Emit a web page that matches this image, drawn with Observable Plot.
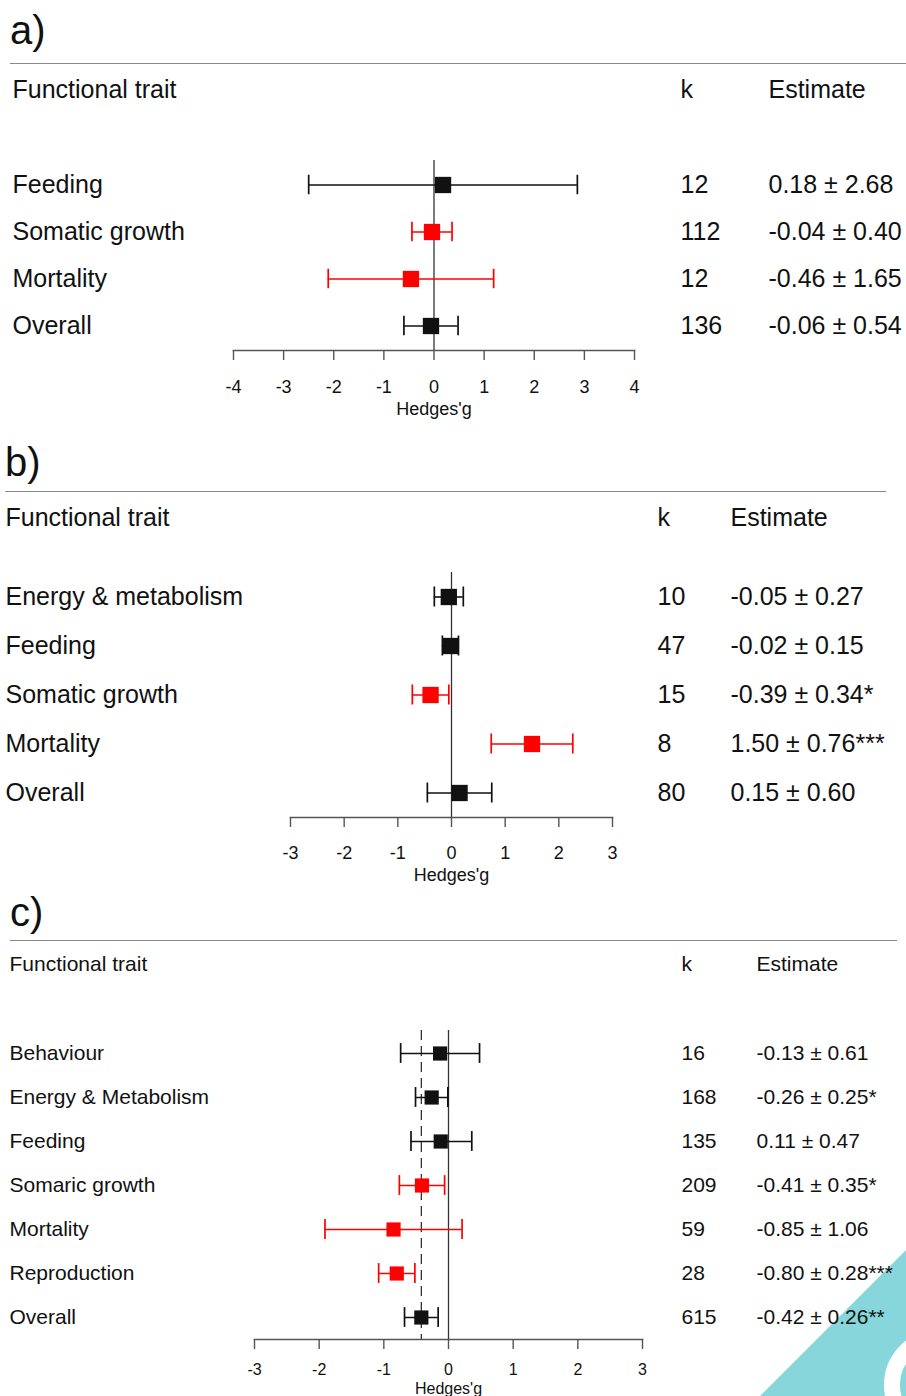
<!DOCTYPE html>
<html>
<head>
<meta charset="utf-8">
<script src="https://cdn.jsdelivr.net/npm/d3@7"></script>
<script src="https://cdn.jsdelivr.net/npm/@observablehq/plot@0.6"></script>
<style>
  html, body { margin: 0; padding: 0; background: #fff; }
  #page { position: relative; width: 906px; height: 1396px; overflow: hidden; font-family: "Liberation Sans", Arial, sans-serif; color: #111; }
  .letter { position: absolute; font-size: 40px; line-height: 1; }
  .hr { position: absolute; height: 0; border-top: 1.5px solid #8a8a8a; }
  .panel { position: absolute; left: 0; }
  #deco { position: absolute; left: 0; top: 0; z-index: 0; }
  .panel { z-index: 1; }
</style>
</head>
<body>
<div id="page">
  <svg id="deco" width="906" height="1396">
    <polygon points="906,1250 906,1396 760,1396" fill="#86d6db"></polygon>
    <circle cx="940" cy="1385" r="48" fill="none" stroke="#fff" stroke-width="16"></circle>
  </svg>
  <div class="letter" style="left:10px; top:10px;">a)</div>
  <div class="hr" style="left:10px; width:896px; top:63px;"></div>
  <div class="letter" style="left:5px; top:442px;">b)</div>
  <div class="hr" style="left:5px; width:881px; top:491px;"></div>
  <div class="letter" style="left:10px; top:892px;">c)</div>
  <div class="hr" style="left:10px; width:887px; top:940px;"></div>
  <div id="pa" class="panel" style="top:0px;"></div>
  <div id="pb" class="panel" style="top:430px;"></div>
  <div id="pc" class="panel" style="top:890px;"></div>
</div>
<script>
// ---------- Panel a ----------
const traitsA = ["Feeding", "Somatic growth", "Mortality", "Overall"];
const kA = [12, 112, 12, 136];
const estA = [0.18, -0.04, -0.46, -0.06];
const loA = [-2.50, -0.44, -2.11, -0.60];
const hiA = [2.86, 0.36, 1.19, 0.48];
const textA = ["0.18 ± 2.68", "-0.04 ± 0.40", "-0.46 ± 1.65", "-0.06 ± 0.54"];
const groupA = ["other", "focal", "focal", "other"];
const ticksA = [-4, -3, -2, -1, 0, 1, 2, 3, 4];

// ---------- Panel b ----------
const traitsB = ["Energy & metabolism", "Feeding", "Somatic growth", "Mortality", "Overall"];
const kB = [10, 47, 15, 8, 80];
const estB = [-0.05, -0.02, -0.39, 1.50, 0.15];
const loB = [-0.32, -0.17, -0.73, 0.74, -0.45];
const hiB = [0.22, 0.13, -0.05, 2.26, 0.75];
const textB = ["-0.05 ± 0.27", "-0.02 ± 0.15", "-0.39 ± 0.34*", "1.50 ± 0.76***", "0.15 ± 0.60"];
const groupB = ["other", "other", "focal", "focal", "other"];
const ticksB = [-3, -2, -1, 0, 1, 2, 3];

// ---------- Panel c ----------
const traitsC = ["Behaviour", "Energy & Metabolism", "Feeding", "Somaric growth", "Mortality", "Reproduction", "Overall"];
const kC = [16, 168, 135, 209, 59, 28, 615];
const estC = [-0.13, -0.26, -0.12, -0.41, -0.85, -0.80, -0.42];
const loC = [-0.74, -0.51, -0.58, -0.76, -1.91, -1.08, -0.68];
const hiC = [0.48, -0.01, 0.36, -0.06, 0.21, -0.52, -0.16];
const textC = ["-0.13 ± 0.61", "-0.26 ± 0.25*", "0.11 ± 0.47", "-0.41 ± 0.35*", "-0.85 ± 1.06", "-0.80 ± 0.28***", "-0.42 ± 0.26**"];
const groupC = ["other", "other", "other", "focal", "focal", "focal", "other"];
const ticksC = [-3, -2, -1, 0, 1, 2, 3];

const headers = ["Functional trait", "k", "Estimate"];

function panel(cfg) {
  const data = cfg.traits.map((name, i) => ({
    name, k: cfg.k[i], est: cfg.est[i], lo: cfg.lo[i], hi: cfg.hi[i], txt: cfg.text[i], grp: cfg.group[i]
  }));
  const n = data.length;
  const band = (cfg.frameBottom - cfg.marginTop) / n;
  const capInset = (band - cfg.cap) / 2;
  const rightEdge = cfg.width - cfg.marginRight;
  const overall = data.find(d => d.name === "Overall");
  const marks = [
    Plot.ruleX([0], {stroke: "#333", strokeWidth: 1.3}),
  ];
  if (cfg.dashed) marks.push(Plot.ruleX([overall.est], {stroke: "#333", strokeWidth: 1.3, strokeDasharray: "10,6"}));
  marks.push(
    Plot.frame({anchor: "bottom", stroke: "#555", strokeWidth: 1.6}),
    Plot.axisX({ticks: cfg.ticks, tickSize: 10, tickPadding: cfg.tickPadding, fontSize: cfg.tickFont,
                tickFormat: d => String(d), label: null, stroke: "#555", strokeWidth: 1.4}),
    Plot.ruleY(data, {y: "name", x1: "lo", x2: "hi", stroke: "grp", strokeWidth: 1.6}),
    Plot.tickX(data, {x: "lo", y: "name", stroke: "grp", strokeWidth: 1.7, insetTop: capInset, insetBottom: capInset}),
    Plot.tickX(data, {x: "hi", y: "name", stroke: "grp", strokeWidth: 1.7, insetTop: capInset, insetBottom: capInset}),
    Plot.dot(data, {x: "est", y: "name", symbol: "square", r: cfg.r, fill: "grp", stroke: null}),
    // row labels
    Plot.text(data, {y: "name", text: "name", frameAnchor: "left", dx: cfg.labelX - cfg.marginLeft, textAnchor: "start", fontSize: cfg.font}),
    Plot.text(data, {y: "name", text: d => String(d.k), frameAnchor: "right", dx: cfg.kX - rightEdge, textAnchor: "start", fontSize: cfg.font}),
    Plot.text(data, {y: "name", text: "txt", frameAnchor: "right", dx: cfg.estX - rightEdge, textAnchor: "start", fontSize: cfg.font}),
    // headers
    Plot.text([headers[0]], {text: d => d, frameAnchor: "top-left", dx: cfg.labelX - cfg.marginLeft, dy: cfg.headerY - cfg.marginTop, textAnchor: "start", lineAnchor: "middle", fontSize: cfg.font}),
    Plot.text([headers[1]], {text: d => d, frameAnchor: "top-right", dx: cfg.kX - rightEdge, dy: cfg.headerY - cfg.marginTop, textAnchor: "start", lineAnchor: "middle", fontSize: cfg.font}),
    Plot.text([headers[2]], {text: d => d, frameAnchor: "top-right", dx: cfg.estX - rightEdge, dy: cfg.headerY - cfg.marginTop, textAnchor: "start", lineAnchor: "middle", fontSize: cfg.font}),
    Plot.text(["Hedges'g"], {text: d => d, frameAnchor: "bottom", dy: cfg.hedgesDy, lineAnchor: "middle", fontSize: cfg.tickFont})
  );
  return Plot.plot({
    width: cfg.width,
    height: cfg.height,
    marginLeft: cfg.marginLeft,
    marginRight: cfg.marginRight,
    marginTop: cfg.marginTop,
    marginBottom: cfg.height - cfg.frameBottom,
    x: {domain: [cfg.ticks[0], cfg.ticks[cfg.ticks.length - 1]]},
    y: {type: "band", domain: cfg.traits, padding: 0, axis: null},
    color: {type: "categorical", domain: ["other", "focal"], range: ["#111111", "#ff0000"]},
    style: {fontFamily: "'Liberation Sans', Arial, sans-serif", color: "#111", background: "transparent", overflow: "visible"},
    marks
  });
}

document.getElementById("pa").append(panel({
  traits: traitsA, k: kA, est: estA, lo: loA, hi: hiA, text: textA, group: groupA, ticks: ticksA,
  width: 906, height: 430, marginLeft: 233, marginRight: 272, marginTop: 160, frameBottom: 350,
  labelX: 12, kX: 680, estX: 768, headerY: 89, font: 25, tickFont: 18, tickPadding: 20, hedgesDy: 59,
  cap: 20, r: 9.2, dashed: false
}));

document.getElementById("pb").append(panel({
  traits: traitsB, k: kB, est: estB, lo: loB, hi: hiB, text: textB, group: groupB, ticks: ticksB,
  width: 906, height: 460, marginLeft: 290, marginRight: 294, marginTop: 142, frameBottom: 387,
  labelX: 5, kX: 657, estX: 730, headerY: 87, font: 25, tickFont: 18, tickPadding: 19, hedgesDy: 58,
  cap: 20, r: 9.2, dashed: false
}));

document.getElementById("pc").append(panel({
  traits: traitsC, k: kC, est: estC, lo: loC, hi: hiC, text: textC, group: groupC, ticks: ticksC,
  width: 906, height: 506, marginLeft: 254, marginRight: 264, marginTop: 140, frameBottom: 449,
  labelX: 9, kX: 681, estX: 756, headerY: 74, font: 21, tickFont: 16, tickPadding: 14, hedgesDy: 49,
  cap: 20, r: 8, dashed: true
}));
</script>
</body>
</html>
